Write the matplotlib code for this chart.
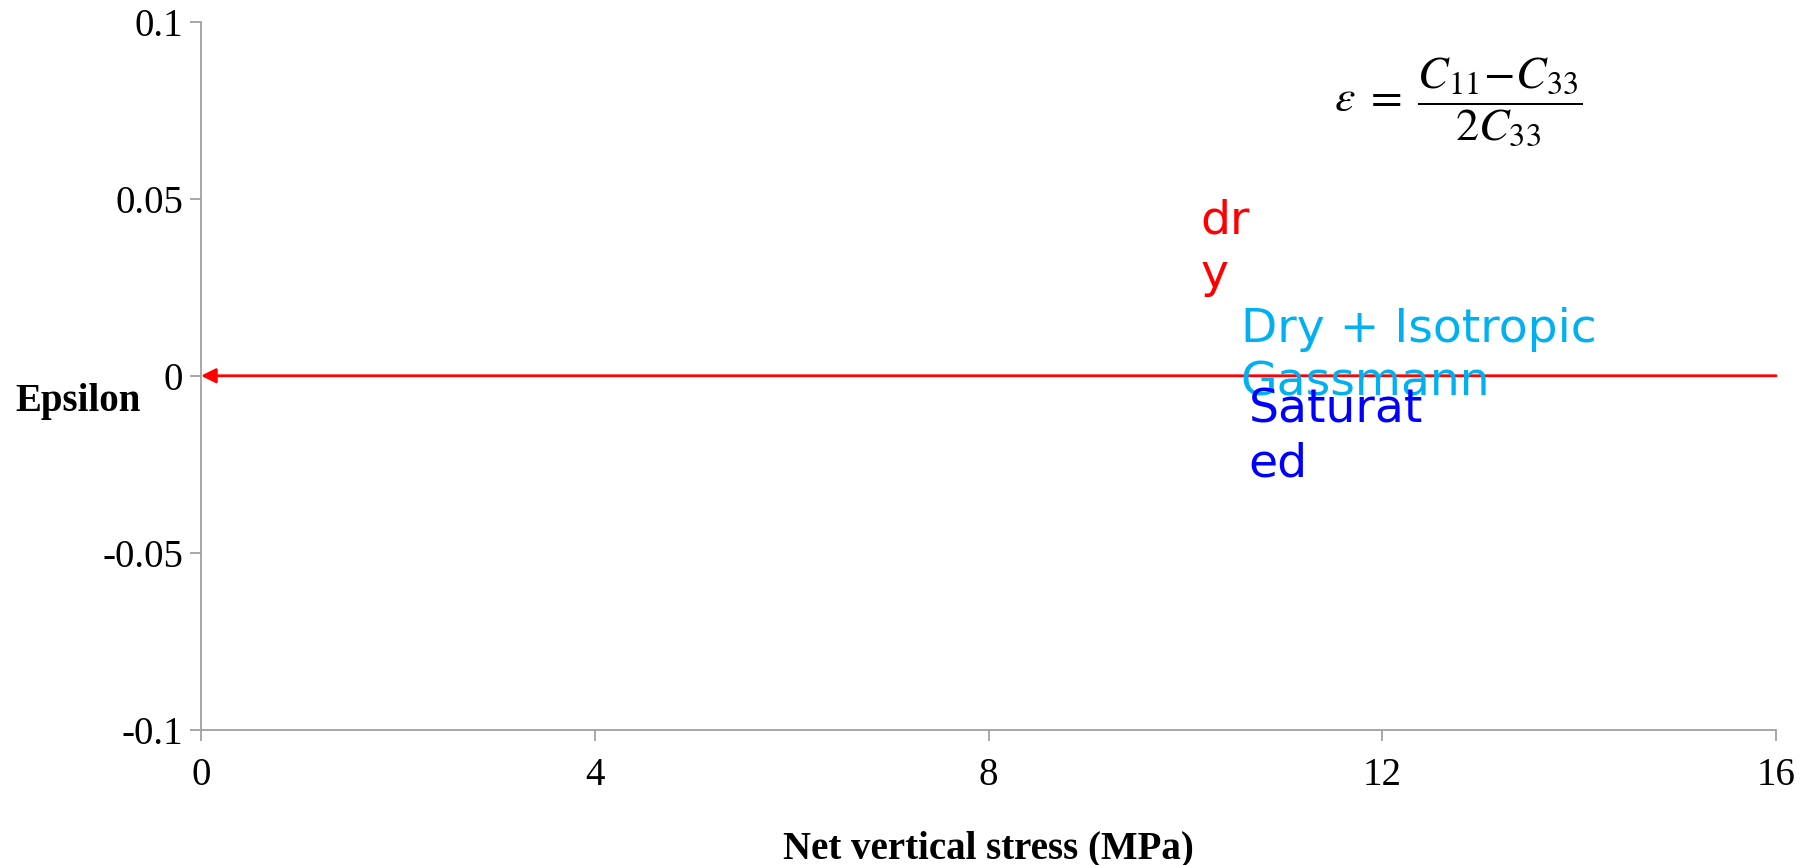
import matplotlib
matplotlib.use("Agg")
import matplotlib.pyplot as plt

# net vertical stress (MPa) vs Thomsen epsilon
stress = [16, 0]
eps_dry = [0, 0]

x_ticks = [0, 4, 8, 12, 16]
y_ticks = [-0.1, -0.05, 0, 0.05, 0.1]
y_tick_labels = ["-0.1", "-0.05", "0", "0.05", "0.1"]

AXIS_GREY = "#a0a0a0"

plt.rcParams["mathtext.fontset"] = "stix"

fig = plt.figure(figsize=(18.16, 8.65), dpi=100)
ax = fig.add_axes([0.1107, 0.1566, 0.8673, 0.818])

# dry curve, drawn as an arrow pointing back to zero stress
ax.annotate("", xy=(stress[1], eps_dry[1]), xytext=(stress[0], eps_dry[0]),
            arrowprops=dict(arrowstyle="-|>", color="red", lw=2,
                            mutation_scale=22, shrinkA=0, shrinkB=0))

ax.set_xlim(0, 16)
ax.set_ylim(-0.1, 0.1)
ax.set_xticks(x_ticks)
ax.set_xticklabels([str(t) for t in x_ticks])
ax.set_yticks(y_ticks)
ax.set_yticklabels(y_tick_labels)

for side in ("top", "right"):
    ax.spines[side].set_visible(False)
for side in ("left", "bottom"):
    ax.spines[side].set_color(AXIS_GREY)
    ax.spines[side].set_linewidth(1.3)

ax.tick_params(axis="both", direction="out", length=8, width=1.3,
               color=AXIS_GREY, labelsize=28)
ax.tick_params(axis="y", pad=5)
ax.tick_params(axis="x", pad=12)
for lab in ax.get_xticklabels() + ax.get_yticklabels():
    lab.set_family("Liberation Serif")

ax.set_xlabel("Net vertical stress (MPa)", family="Liberation Serif",
              fontsize=28, fontweight="bold")
ax.xaxis.set_label_coords(0.5, -0.143)
ax.set_ylabel("Epsilon", family="Liberation Serif", fontsize=28,
              fontweight="bold", rotation=0, labelpad=0)
ax.yaxis.set_label_coords(-0.078, 0.437)

# series labels placed beside the curves
ax.text(10.15, 0.050, "dr\ny", color="red", fontsize=34, va="top",
        ha="left", linespacing=1.22)
ax.text(10.56, 0.0195, "Dry + Isotropic\nGassmann", color="#00b0f0",
        fontsize=34, va="top", ha="left", linespacing=1.25)
ax.text(10.64, -0.0034, "Saturat\ned", color="blue", fontsize=34,
        va="top", ha="left", linespacing=1.25)

ax.text(0.803, 0.882, r"$\varepsilon\;=\;\dfrac{C_{11}\!-\!C_{33}}{2C_{33}}$",
        transform=fig.transFigure, fontsize=33, ha="center", va="center")

fig.savefig("out.png", dpi=100)
